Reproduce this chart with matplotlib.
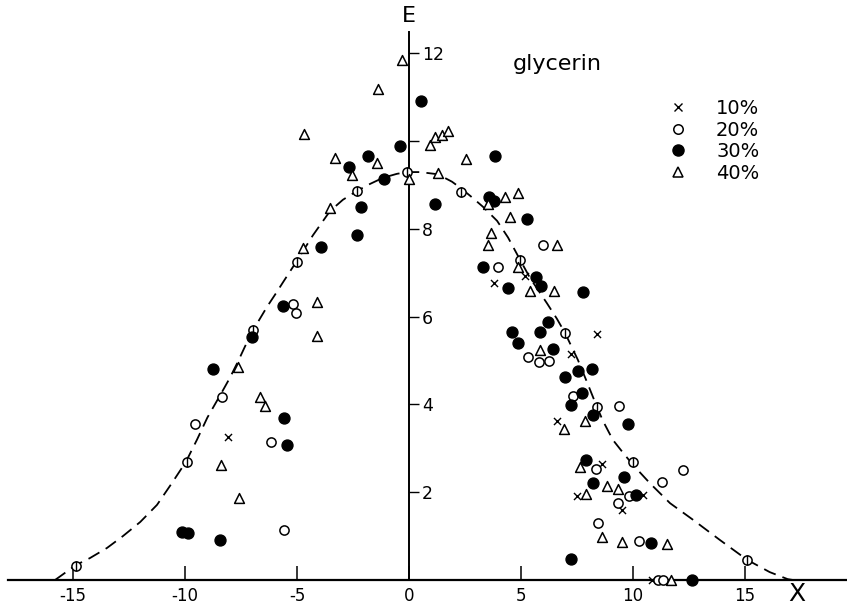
import matplotlib
matplotlib.use("Agg")
import matplotlib.pyplot as plt
from matplotlib.lines import Line2D

plt.rcParams['font.family'] = ['DejaVu Sans']
plt.rcParams['axes.unicode_minus'] = False

# ---- data ----
# 10 % glycerin (x marks)
x10 = [-8.08, 5.18, 3.79, 8.39, 7.23, 6.61, 8.62, 7.50, 10.45, 9.51, 10.85]
e10 = [3.26, 6.92, 6.77, 5.60, 5.15, 3.62, 2.64, 1.91, 1.94, 1.59, 0.0]

# 20 % glycerin (open circles)
x20 = [-5.18, -5.04, -8.35, -9.55, -6.16, -5.58, 5.98, 3.97, 5.31, 5.80, 6.25,
       7.32, 9.38, 8.35, 12.23, 11.29, 9.82, 9.33, 8.44, 10.27, 11.12, 11.34]
e20 = [6.29, 6.08, 4.17, 3.55, 3.14, 1.14, 7.63, 7.13, 5.08, 4.97, 4.99,
       4.19, 3.96, 2.53, 2.51, 2.23, 1.91, 1.75, 1.30, 0.89, 0.0, 0.0]

# 20 % points lying on the fitted curve (circle with a bar)
x20c = [-14.87, -9.91, -6.96, -5.00, -2.32, -0.09, 2.32, 4.96, 6.96, 8.39, 10.0, 15.09]
e20c = [0.32, 2.69, 5.69, 7.24, 8.86, 9.29, 8.84, 7.29, 5.63, 3.94, 2.69, 0.46]

# 30 % glycerin (filled circles)
x30 = [-5.63, -7.01, -8.75, -5.58, -5.45, -10.13, -9.87, -8.44, 0.54, -0.40,
       -1.83, -2.68, -1.12, -2.14, -2.32, -3.93, 1.16, 3.84, 3.57, 3.79,
       5.27, 3.30, 5.67, 4.42, 5.89, 7.77, 6.21, 4.60, 5.85, 4.87,
       6.43, 7.54, 8.17, 6.96, 7.72, 7.23, 8.21, 9.78, 7.90, 9.60,
       8.21, 10.13, 10.80, 7.23, 12.63]
e30 = [6.24, 5.54, 4.81, 3.69, 3.08, 1.09, 1.07, 0.91, 10.91, 9.89,
       9.66, 9.41, 9.13, 8.50, 7.86, 7.59, 8.56, 9.66, 8.72, 8.63,
       8.22, 7.13, 6.90, 6.65, 6.70, 6.56, 5.88, 5.65, 5.65, 5.40,
       5.26, 4.76, 4.81, 4.62, 4.26, 3.99, 3.76, 3.55, 2.73, 2.35,
       2.21, 1.94, 0.84, 0.48, 0.0]

# 40 % glycerin (open triangles)
x40 = [-0.31, -1.38, -4.69, -3.30, -1.43, -2.54, 0.0, -3.53, -4.73, -4.11,
       -4.11, -7.63, -6.65, -6.43, -8.39, -7.59, 0.94, 1.16, 1.47, 1.74,
       2.54, 1.29, 3.53, 4.29, 4.87, 4.51, 3.66, 3.53, 6.61, 4.87,
       5.40, 6.47, 5.85, 6.92, 7.86, 7.63, 8.84, 9.33, 7.90, 8.62,
       9.51, 11.52, 11.70]
e40 = [11.85, 11.18, 10.16, 9.61, 9.50, 9.23, 9.13, 8.47, 7.56, 6.33,
       5.56, 4.85, 4.17, 3.96, 2.62, 1.87, 9.91, 10.09, 10.14, 10.23,
       9.59, 9.27, 8.56, 8.72, 8.82, 8.27, 7.90, 7.63, 7.63, 7.13,
       6.58, 6.58, 5.24, 3.44, 3.62, 2.57, 2.14, 2.07, 1.96, 0.98,
       0.87, 0.82, 0.0]

# dashed fitted curve
curve_x = [-15.8, -14.87, -14.24, -13.48, -12.77, -12.0, -11.25, -10.58, -9.96, -9.46,
           -9.0, -8.35, -8.0, -7.63, -7.32, -6.96, -6.34, -5.9, -5.6, -5.04,
           -4.29, -3.53, -2.95, -2.32, -1.74, -1.16, -0.54, -0.09, 0.49, 1.29,
           1.92, 2.32, 2.8, 3.3, 3.93, 4.42, 4.96, 5.4, 6.16, 6.6,
           6.96, 7.54, 7.95, 8.39, 8.66, 9.1, 9.55, 10.0, 10.76, 11.65,
           12.68, 13.88, 15.09, 16.1, 16.9, 17.14]
curve_e = [0.0, 0.34, 0.5, 0.73, 1.0, 1.32, 1.71, 2.21, 2.69, 3.2,
           3.7, 4.28, 4.6, 4.98, 5.32, 5.69, 6.22, 6.56, 6.8, 7.24,
           7.85, 8.4, 8.66, 8.86, 9.02, 9.16, 9.25, 9.29, 9.29, 9.24,
           9.07, 8.92, 8.72, 8.5, 8.18, 7.8, 7.29, 6.88, 6.3, 5.95,
           5.63, 5.01, 4.5, 3.94, 3.62, 3.19, 2.9, 2.62, 2.2, 1.75,
           1.37, 0.91, 0.46, 0.18, 0.02, 0.0]

x_ticks = [-15, -10, -5, 0, 5, 10, 15]
x_tick_labels = ["-15", "-10", "-5", "0", "5", "10", "15"]
y_ticks = [2, 4, 6, 8, 10, 12]
y_tick_labels = ["2", "4", "6", "8", "", "12"]
legend_labels = ["10%", "20%", "30%", "40%"]

# ---- figure ----
fig = plt.figure(figsize=(8.47, 6.07), dpi=100)
ax = fig.add_axes([8 / 847, 27 / 607, 839 / 847, 548 / 607])
ax.set_xlim(-17.9, 19.55)
ax.set_ylim(0, 12.48)

ax.spines['left'].set_visible(False)
ax.spines['top'].set_visible(False)
ax.spines['right'].set_position(('data', 0))
ax.spines['right'].set_linewidth(1.4)
ax.spines['bottom'].set_linewidth(1.6)

ax.set_xticks(x_ticks)
ax.set_xticklabels(x_tick_labels)
ax.tick_params(axis='x', direction='in', length=10, width=1.1, pad=5, labelsize=12)

ax.yaxis.tick_right()
ax.set_yticks(y_ticks)
ax.set_yticklabels(y_tick_labels)
ax.tick_params(axis='y', direction='out', length=7.2, width=1.0, pad=2, labelsize=12.5)

ax.plot(curve_x, curve_e, color='black', lw=1.3, dashes=(7, 4), zorder=2)

ax.scatter(x10, e10, marker='x', s=26, c='black', linewidths=1.0, zorder=4, clip_on=False)
ax.scatter(x20, e20, marker='o', s=44, facecolors='white', edgecolors='black',
           linewidths=1.1, zorder=4, clip_on=False)
ax.scatter(x20c, e20c, marker='o', s=44, facecolors='white', edgecolors='black',
           linewidths=1.1, zorder=4, clip_on=False)
ax.scatter(x20c, e20c, marker='|', s=44, c='black', linewidths=1.0, zorder=5, clip_on=False)
ax.scatter(x30, e30, marker='o', s=62, c='black', zorder=4, clip_on=False)
ax.scatter(x40, e40, marker='^', s=50, facecolors='white', edgecolors='black',
           linewidths=1.1, zorder=4, clip_on=False)

ax.text(0, 12.85, "E", ha='center', va='center', fontsize=16, clip_on=False)
ax.text(17.3, -0.32, "X", ha='center', va='center', fontsize=18, clip_on=False)
ax.text(6.6, 11.75, "glycerin", ha='center', va='center', fontsize=16)

handles = [
    Line2D([], [], ls='', marker='x', color='black', ms=5.5, mew=1.0),
    Line2D([], [], ls='', marker='o', mfc='white', mec='black', ms=6.8, mew=1.1),
    Line2D([], [], ls='', marker='o', color='black', ms=8),
    Line2D([], [], ls='', marker='^', mfc='white', mec='black', ms=7.5, mew=1.1),
]
fig.legend(handles, legend_labels, loc='upper left', bbox_to_anchor=(668 / 847, (607 - 99) / 607),
           bbox_transform=fig.transFigure, frameon=False, fontsize=14,
           handlelength=1.0, handletextpad=1.47, labelspacing=0.13,
           borderpad=0, borderaxespad=0)

fig.savefig("out.png", dpi=100)
